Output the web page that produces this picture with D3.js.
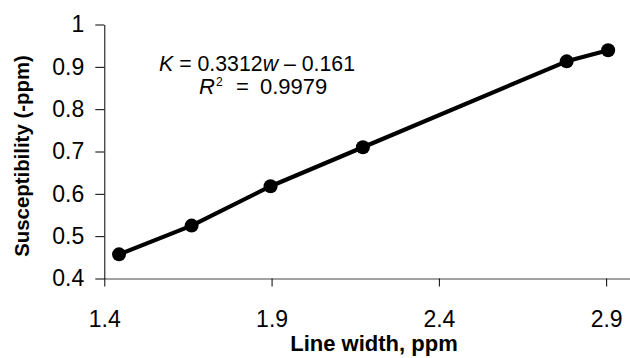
<!DOCTYPE html>
<html>
<head>
<meta charset="utf-8">
<script src="https://cdn.jsdelivr.net/npm/d3@7"></script>
<style>
  html, body { margin: 0; padding: 0; background: #fff; }
  svg { display: block; }
  text { font-family: "Liberation Sans", Arial, Helvetica, sans-serif; fill: #000; }
</style>
</head>
<body>
<svg id="chart" width="630" height="358"></svg>
<script>
// Measured line widths (ppm) and susceptibilities (-ppm)
const lineWidth = [1.444, 1.661, 1.897, 2.173, 2.782, 2.906];
const susceptibility = [0.457, 0.525, 0.618, 0.710, 0.913, 0.939];

const xTicks = [1.4, 1.9, 2.4, 2.9];
const xTickLabels = ["1.4", "1.9", "2.4", "2.9"];
const yTicks = [0.4, 0.5, 0.6, 0.7, 0.8, 0.9, 1.0];
const yTickLabels = ["0.4", "0.5", "0.6", "0.7", "0.8", "0.9", "1"];

const xTitle = "Line width, ppm";
const yTitle = "Susceptibility (-ppm)";
const fitSlope = "0.3312";
const fitIntercept = "0.161";
const rSquared = "0.9979";

const svg = d3.select("#chart");

const x = d3.scaleLinear().domain([1.4, 3.0]).range([104.3, 639.6]);
const y = d3.scaleLinear().domain([0.4, 1.0]).range([278.5, 24.5]);

const FONT = "Liberation Sans, Arial, sans-serif";

// x axis
const xAxis = d3.axisBottom(x)
  .tickValues(xTicks)
  .tickFormat((d, i) => xTickLabels[i])
  .tickSizeInner(8)
  .tickSizeOuter(0)
  .tickPadding(24);
const gx = svg.append("g").attr("transform", `translate(0,${y(0.4)})`).call(xAxis);
gx.select(".domain").attr("stroke", "#444");
gx.selectAll(".tick line").attr("stroke", "#000");
gx.selectAll(".tick text").attr("font-size", 23).attr("fill", "#000").attr("font-family", FONT);

// y axis
const yAxis = d3.axisLeft(y)
  .tickValues(yTicks)
  .tickFormat((d, i) => yTickLabels[i])
  .tickSizeInner(9)
  .tickSizeOuter(0)
  .tickPadding(11);
const gy = svg.append("g").attr("transform", `translate(${x(1.4)},0)`).call(yAxis);
gy.select(".domain").attr("stroke", "#000");
gy.selectAll(".tick line").attr("stroke", "#000");
gy.selectAll(".tick text").attr("font-size", 23).attr("fill", "#000").attr("font-family", FONT);

// axis titles
svg.append("text")
  .attr("x", 374).attr("y", 351)
  .attr("text-anchor", "middle")
  .attr("font-size", 22).attr("font-weight", "bold")
  .text(xTitle);

svg.append("text")
  .attr("transform", "translate(29,156) rotate(-90)")
  .attr("text-anchor", "middle")
  .attr("font-size", 20.4).attr("font-weight", "bold")
  .text(yTitle);

// data series: line through the measurements plus markers
const pts = lineWidth.map((w, i) => [w, susceptibility[i]]);
svg.append("path")
  .datum(pts)
  .attr("fill", "none")
  .attr("stroke", "#000")
  .attr("stroke-width", 4.2)
  .attr("stroke-linejoin", "round")
  .attr("d", d3.line().x(d => x(d[0])).y(d => y(d[1])));

svg.append("g").selectAll("circle")
  .data(pts)
  .join("circle")
  .attr("cx", d => x(d[0]))
  .attr("cy", d => y(d[1]))
  .attr("r", 7)
  .attr("fill", "#000");

// regression equation
const eq = svg.append("text").attr("x", 159).attr("y", 71).attr("font-size", 21.3);
eq.append("tspan").attr("font-style", "italic").text("K");
eq.append("tspan").text(" = " + fitSlope);
eq.append("tspan").attr("font-style", "italic").text("w");
eq.append("tspan").text(" \u2013 " + fitIntercept);

const r2 = svg.append("text").attr("x", 199).attr("y", 94).attr("font-size", 22);
r2.append("tspan").attr("font-style", "italic").text("R");
r2.append("tspan").attr("x", 216).attr("dy", -8).attr("font-size", 12).text("2");
r2.append("tspan").attr("x", 236).attr("dy", 8).text("=");
r2.append("tspan").attr("x", 260).text(rSquared);
</script>
</body>
</html>
